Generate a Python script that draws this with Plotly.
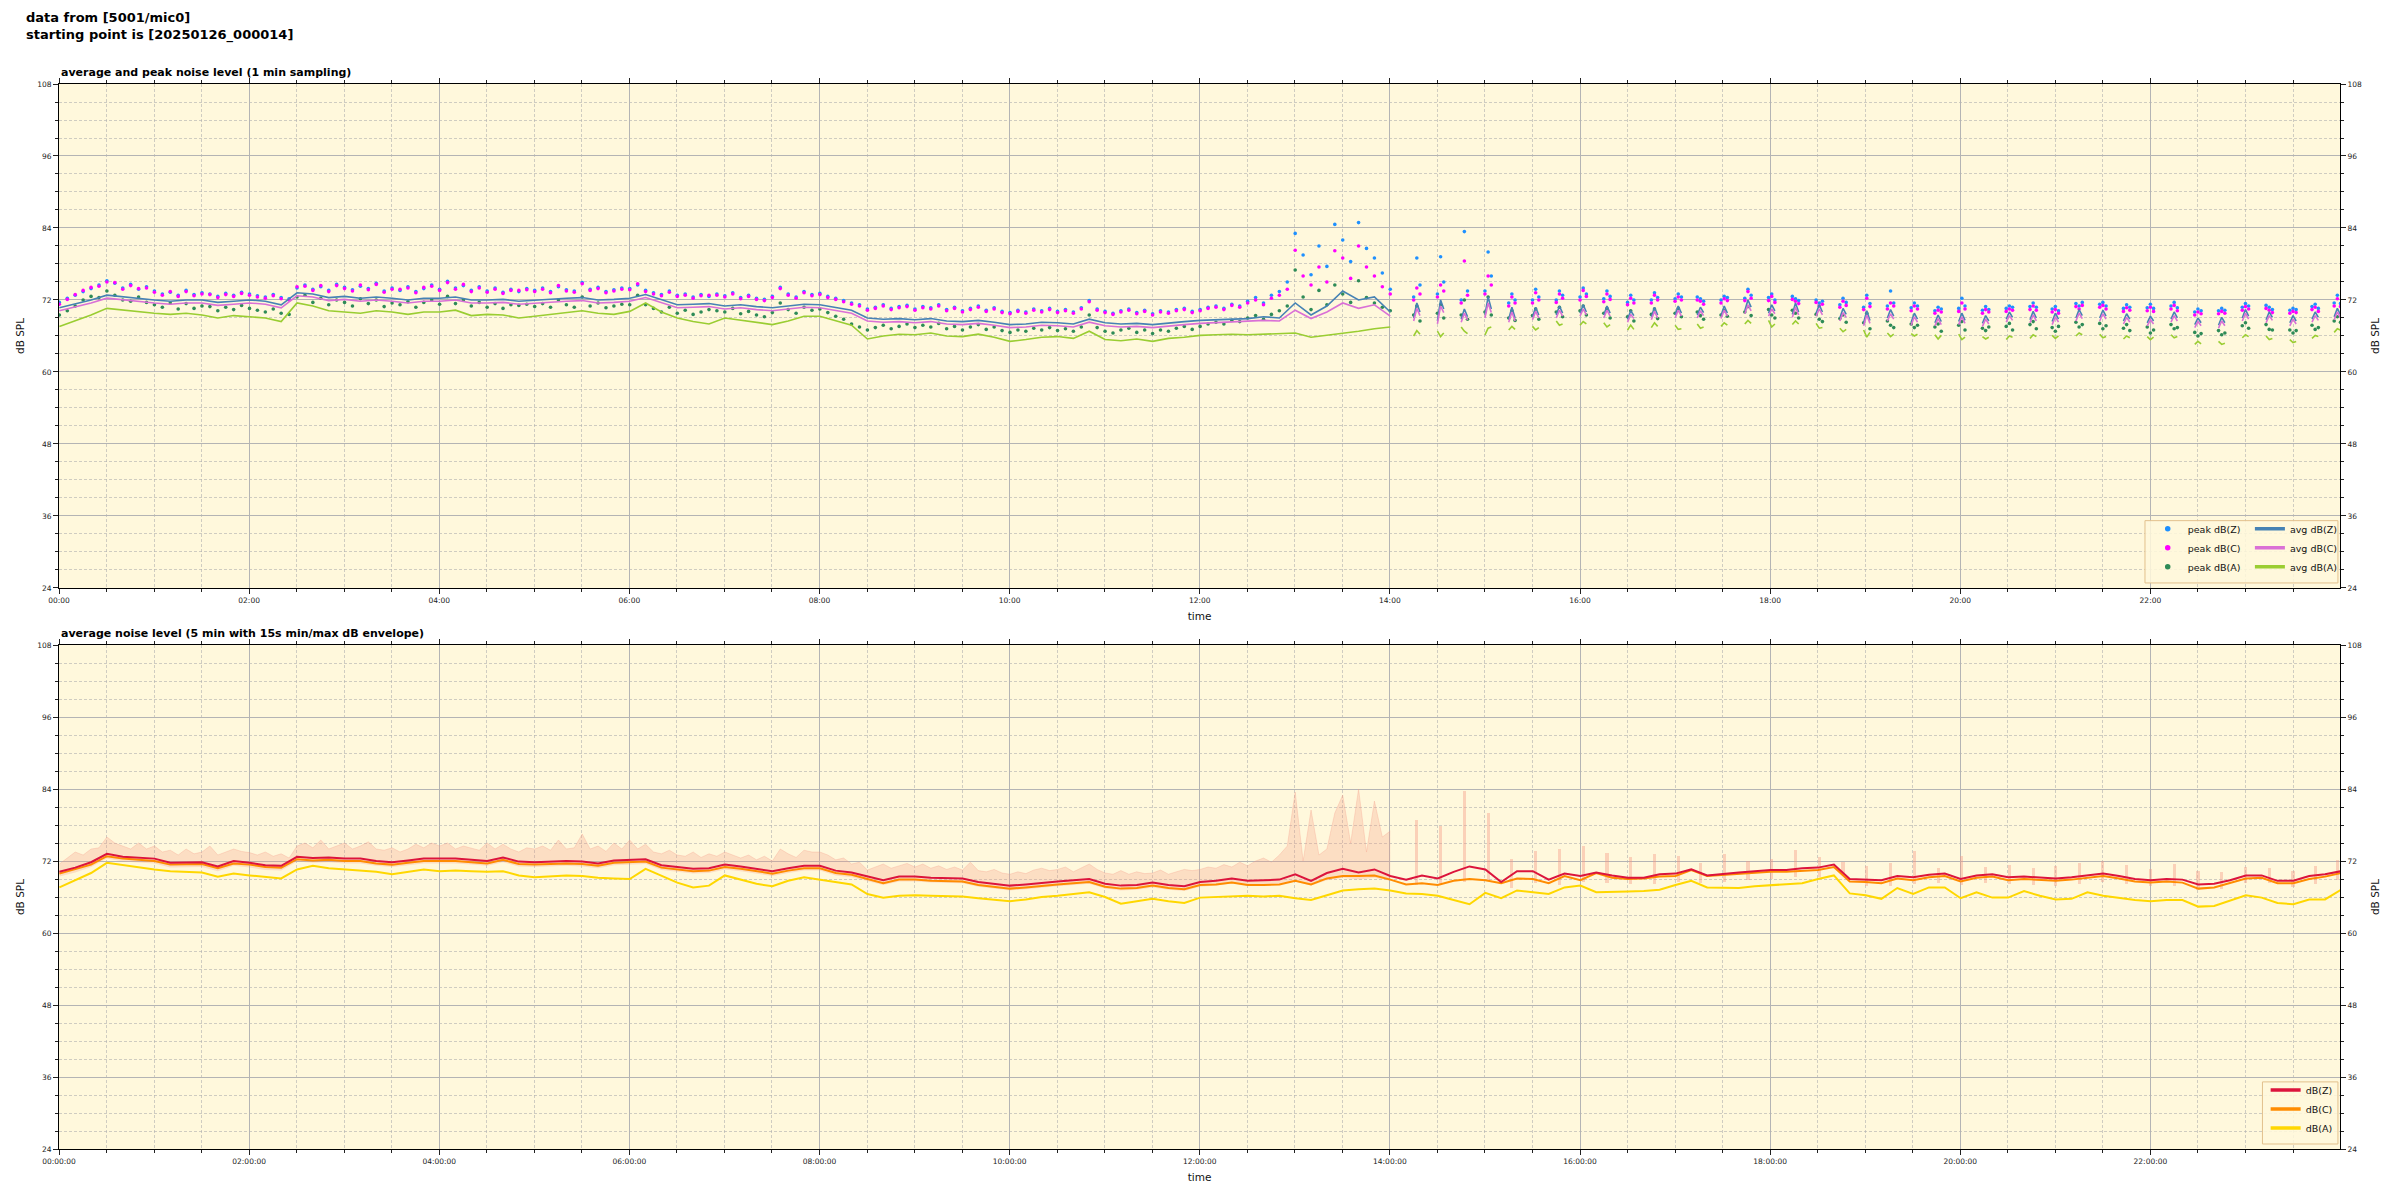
import pandas as pd
import plotly.graph_objects as go

DAY = "2025-01-26"
START = pd.Timestamp(DAY + " 00:00:14")


def nums(s):
    return [float(v) for v in s.split()]


# ---------------- top panel: 1-min averages, read every 10 min (00:00 .. 14:00) ----------------
top_avg_z = nums("""
70.7 71.3 72.0 72.8 72.5 72.3 72.0 71.8 72.0 72.0 71.6 71.8
72.0 71.8 71.2 73.2 73.0 72.4 72.6 72.3 72.5 72.3 72.0 72.3
72.3 72.5 72.0 72.0 72.1 71.8 72.0 72.2 72.3 72.4 72.0 72.1
72.3 72.9 72.0 71.2 71.3 71.4 71.0 71.2 70.9 70.7 71.0 71.3
71.2 70.7 70.3 69.0 68.8 68.9 68.7 68.9 68.5 68.4 68.6 68.3
67.9 68.0 68.3 68.2 68.0 68.8 68.2 68.0 68.1 67.9 68.2 68.4
68.6 68.7 68.9 68.9 69.2 69.0 71.5 69.5 71.0 73.5 72.0 72.5
70.0
""")
top_avg_c = nums("""
70.2 70.8 71.5 72.3 72.0 71.8 71.5 71.3 71.5 71.5 71.1 71.3
71.5 71.3 70.7 72.7 72.5 71.9 72.1 71.8 72.0 71.8 71.5 71.8
71.8 72.0 71.5 71.5 71.6 71.3 71.5 71.7 71.8 71.9 71.5 71.6
71.8 72.4 71.5 70.7 70.8 70.9 70.5 70.7 70.4 70.2 70.5 70.8
70.7 70.2 69.8 68.5 68.3 68.4 68.2 68.4 68.0 67.9 68.1 67.8
67.4 67.5 67.8 67.7 67.5 68.3 67.7 67.5 67.6 67.4 67.7 67.9
68.1 68.2 68.4 68.4 68.6 68.5 70.3 68.9 70.0 71.5 70.6 71.2
69.3
""")
top_avg_a = nums("""
67.6 68.5 69.5 70.6 70.3 70.0 69.8 69.6 69.8 69.5 69.0 69.4
69.2 69.0 68.4 71.5 71.0 70.2 70.0 69.8 70.2 70.0 69.6 70.0
70.0 70.3 69.4 69.6 69.5 69.0 69.3 69.6 69.8 70.2 69.8 69.6
70.1 71.5 70.0 69.0 68.4 68.0 69.0 68.6 68.2 67.9 68.5 69.3
69.3 68.5 67.8 65.5 66.0 66.3 66.2 66.5 66.0 65.9 66.3 65.8
65.1 65.4 65.8 65.9 65.6 66.8 65.4 65.2 65.5 65.1 65.6 65.8
66.1 66.2 66.3 66.2 66.3 66.4 66.5 65.8 66.1 66.5 66.8 67.2
67.5
""")

# peaks, read every 5 min (00:00 .. 14:00)
top_peak_z = nums("""
71.6 72.3 72.8 73.4 73.9 74.5 75.2 74.8 74.0 74.6 73.8 74.2
73.5 73.0 73.3 72.8 73.6 72.9 73.2 73.0 72.6 73.1 72.8 73.3
73.0 72.7 72.5 72.9 72.4 72.2 74.0 74.5 73.8 74.2 73.6 74.6
74.1 73.7 74.3 73.9 74.8 73.5 74.0 73.6 74.2 73.4 73.9 74.5
73.8 75.1 74.0 74.4 73.6 74.2 73.5 74.0 73.3 73.8 73.4 73.9
73.6 74.0 73.4 74.2 73.7 73.5 74.9 73.8 74.1 73.4 73.7 74.0
73.9 74.5 73.6 73.2 72.9 73.5 72.8 73.0 72.5 72.9 72.6 73.0
72.7 73.2 72.4 72.8 72.3 72.1 72.6 74.1 73.0 72.5 73.4 72.9
73.1 72.6 72.3 71.9 71.5 71.2 70.5 70.8 71.2 70.6 70.9 71.1
70.5 70.9 70.7 71.2 70.4 70.8 70.2 70.6 71.0 70.3 70.7 70.1
69.9 70.3 70.0 70.5 70.2 70.6 70.1 70.4 70.0 70.7 71.9 70.5
70.1 69.8 70.2 70.5 69.9 70.3 69.7 70.2 70.0 70.4 70.6 70.1
70.4 70.8 71.0 70.6 71.3 71.0 71.8 72.4 71.5 72.8 73.4 75.0
83.1 79.5 76.2 81.0 77.6 84.6 82.0 78.4 84.9 80.6 79.0 76.5
73.8
""")
top_peak_c = nums("""
71.3 72.1 72.9 73.6 74.1 74.3 75.0 74.9 73.8 74.4 73.9 74.0
73.3 72.8 73.4 72.6 73.4 72.7 73.0 72.9 72.4 72.9 72.6 73.1
72.8 72.5 72.3 72.7 72.2 72.0 74.2 74.3 73.6 74.4 73.4 74.4
73.9 73.5 74.5 73.7 74.6 73.3 73.8 73.8 74.0 73.2 74.1 74.3
73.6 74.9 73.8 74.6 73.4 74.0 73.3 73.8 73.1 73.6 73.6 73.7
73.4 73.8 73.2 74.4 73.5 73.3 74.7 73.6 73.9 73.2 73.5 73.8
73.7 74.7 73.4 73.0 72.7 73.3 72.6 72.8 72.3 72.7 72.8 72.8
72.5 73.0 72.2 72.6 72.1 71.9 72.4 73.9 72.8 72.3 73.2 72.7
72.9 72.4 72.1 71.7 71.3 71.0 70.3 70.6 71.0 70.4 70.7 70.9
70.3 70.7 70.5 71.0 70.2 70.6 70.0 70.4 70.8 70.1 70.5 69.9
69.7 70.1 69.8 70.3 70.0 70.4 69.9 70.2 69.8 70.5 71.7 70.3
69.9 69.6 70.0 70.3 69.7 70.1 69.5 70.0 69.8 70.2 70.4 69.9
70.2 70.6 70.8 70.4 71.1 70.8 71.5 72.0 71.2 72.3 72.8 73.8
80.3 76.0 74.5 77.5 75.0 80.2 79.0 75.6 81.0 77.5 76.0 74.2
73.0
""")
top_peak_a = nums("""
69.5 70.2 71.0 72.0 72.6 72.4 73.5 72.8 72.0 71.8 72.5 71.6
71.2 70.8 71.5 70.5 71.4 70.6 71.0 70.9 70.2 70.8 70.4 71.1
70.6 70.3 70.0 70.5 69.8 69.6 72.5 72.8 71.6 72.3 71.2 72.0
71.6 71.0 72.2 71.4 72.0 70.9 71.5 71.2 71.7 70.8 71.6 72.0
71.3 72.6 71.4 72.0 71.0 71.6 70.8 71.4 70.6 71.2 71.1 71.3
70.9 71.4 70.8 72.0 71.2 70.8 72.5 71.0 71.5 70.7 71.0 71.3
71.2 72.8 71.2 70.6 70.0 70.8 69.8 70.3 69.6 70.0 70.4 70.2
70.0 70.6 69.7 70.1 69.5 69.2 69.9 71.5 70.4 69.8 70.8 70.3
70.5 69.9 69.3 68.8 68.0 67.5 67.0 67.4 67.8 67.2 67.6 68.0
67.4 67.8 67.5 68.1 67.2 67.6 67.0 67.5 67.9 67.1 67.5 66.9
66.6 67.0 66.8 67.3 67.0 67.4 66.9 67.2 66.8 67.5 69.5 67.4
66.8 66.5 67.0 67.3 66.6 67.0 66.4 67.0 66.8 67.3 67.6 67.1
67.6 68.0 68.3 68.0 68.6 68.4 69.0 69.4 68.8 69.6 70.2 71.0
77.0 72.5 70.4 73.6 71.2 74.5 73.0 71.6 75.2 72.4 71.5 70.8
70.2
""")

# after 14:00 the recorder only sampled short bursts (start time of each burst)
burst_start = [
    "14:15", "14:30", "14:45", "15:00", "15:15", "15:30", "15:45", "16:00", "16:15", "16:30",
    "16:45", "17:00", "17:14", "17:29", "17:44", "17:59", "18:14", "18:29", "18:44", "18:59",
    "19:14", "19:29", "19:44", "19:59", "20:14", "20:29", "20:44", "20:58", "21:13", "21:28",
    "21:43", "21:58", "22:13", "22:28", "22:43", "22:58", "23:13", "23:28", "23:42", "23:56",
]
burst_sample_min = [0, 2, 4]   # minutes after burst start

burst_avg_z = nums("""
69.0 71.5 70.0  68.5 72.0 70.5  68.8 70.5 69.2  69.5 72.5 70.5  68.8 70.8 69.0
69.2 70.8 69.5  69.5 71.0 69.8  69.8 71.2 70.0  69.5 71.0 69.8  68.8 70.2 69.4
69.2 70.8 69.5  69.5 71.0 69.8  69.5 70.8 69.9  69.4 71.0 69.8  70.2 72.0 70.8
69.8 71.2 70.2  69.6 71.5 70.0  69.8 71.2 70.0  69.0 70.6 69.6  68.2 70.2 68.6
69.0 70.4 69.3  68.3 69.8 68.8  68.2 69.5 68.4  68.4 69.8 68.6  68.1 69.4 68.5
68.8 70.0 69.1  68.7 70.1 69.0  68.4 69.8 68.8  69.0 70.4 69.4  69.0 70.3 69.3
68.5 69.7 68.8  68.2 69.3 68.5  68.8 70.0 69.0  67.9 69.0 68.2  67.8 69.1 68.2
69.0 70.4 69.3  68.7 70.0 69.1  68.2 69.4 68.5  68.8 70.0 69.1  69.2 70.6 69.5
""")
burst_avg_c = nums("""
68.5 70.6 69.4  68.0 71.0 69.9  68.3 69.8 68.7  69.0 71.5 69.9  68.3 70.0 68.5
68.7 70.1 69.0  69.0 70.3 69.3  69.3 70.5 69.5  69.0 70.3 69.3  68.3 69.6 68.9
68.7 70.1 69.0  69.0 70.3 69.3  69.0 70.2 69.4  68.9 70.3 69.3  69.7 71.2 70.2
69.3 70.5 69.7  69.1 70.8 69.5  69.3 70.5 69.5  68.5 69.9 69.1  67.7 69.5 68.1
68.5 69.7 68.8  67.8 69.2 68.3  67.7 68.9 67.9  67.9 69.2 68.1  67.6 68.8 68.0
68.3 69.4 68.6  68.2 69.5 68.5  67.9 69.2 68.3  68.5 69.8 68.9  68.5 69.7 68.8
68.0 69.1 68.3  67.7 68.7 68.0  68.3 69.4 68.5  67.4 68.4 67.7  67.3 68.5 67.7
68.5 69.8 68.8  68.2 69.4 68.6  67.7 68.8 68.0  68.3 69.4 68.6  68.7 70.0 69.0
""")
burst_avg_a = nums("""
66.0 66.9 66.3  66.8 65.9 66.5  67.5 66.8 66.4  66.2 67.3 67.5  67.0 67.6 67.1
67.6 67.0 67.4  68.5 67.8 68.0  67.8 68.4 68.0  68.2 67.5 67.9  67.0 67.8 67.1
67.4 68.2 67.6  67.8 67.1 67.2  68.0 67.3 67.5  67.6 68.2 67.8  68.0 68.6 68.1
68.6 67.5 68.0  67.9 68.5 68.0  68.1 67.3 67.4  67.3 66.7 67.1  67.0 65.8 66.6
66.5 65.9 66.3  66.4 66.0 66.3  66.2 65.5 66.1  66.3 65.4 65.8  65.9 65.5 65.8
65.4 66.0 65.8  65.6 66.2 65.9  66.1 65.6 66.0  66.0 66.5 66.2  66.3 65.7 65.9
65.5 66.0 65.7  65.9 65.4 65.8  66.2 65.7 65.9  64.6 65.1 64.7  65.1 64.6 64.8
65.7 66.2 65.9  66.0 65.4 65.6  65.4 64.9 65.1  65.6 66.1 65.9  66.6 67.2 67.0
""")
burst_peak_z = nums("""
72.5 79.0 74.5  73.0 79.2 75.0  72.0 83.4 73.5  73.5 80.0 76.0  71.5 73.0 72.0
72.0 73.8 72.5  72.0 73.5 72.8  72.5 74.0 73.0  72.2 73.5 72.6  71.6 72.8 72.0
72.0 73.2 72.4  72.2 73.0 72.5  72.5 72.2 71.8  72.0 72.6 72.4  72.3 73.8 72.8
72.4 73.0 72.0  72.6 72.2 71.9  72.0 71.5 71.8  71.2 72.3 71.6  70.8 72.8 71.4
71.0 73.5 71.5  70.7 71.5 71.0  70.2 70.8 70.5  70.6 72.3 71.0  70.3 70.9 70.4
70.6 71.0 70.8  70.9 71.5 70.8  70.5 70.9 70.2  71.4 71.0 71.6  71.3 71.6 71.0
70.6 71.2 70.8  70.7 71.3 70.6  71.0 71.6 70.7  70.0 70.5 70.2  70.2 70.6 70.3
70.8 71.4 71.0  71.1 70.8 70.4  70.3 70.6 70.4  70.9 71.3 70.6  71.5 72.8 71.4
""")
burst_peak_c = nums("""
72.0 74.0 73.0  72.5 74.5 73.5  71.5 78.5 72.8  73.0 76.0 74.5  71.0 72.5 71.5
71.5 73.2 72.0  71.6 73.0 72.3  72.0 73.6 72.6  71.7 73.0 72.1  71.2 72.3 71.5
71.5 72.8 72.0  71.8 72.5 72.0  72.0 71.8 71.3  71.5 72.2 71.9  71.9 73.4 72.3
71.9 72.6 71.6  72.1 71.8 71.4  71.6 71.0 71.3  70.8 71.8 71.1  70.4 72.3 70.9
70.5 71.5 71.0  70.2 71.0 70.5  69.8 70.3 70.0  70.1 71.5 70.5  69.8 70.4 70.0
70.1 70.5 70.3  70.4 71.0 70.3  70.0 70.4 69.8  70.9 70.5 71.1  70.8 71.1 70.5
70.1 70.7 70.3  70.2 70.8 70.1  70.5 71.1 70.2  69.5 70.0 69.7  69.7 70.1 69.8
70.3 70.9 70.5  70.6 70.3 69.9  69.8 70.1 69.9  70.4 70.8 70.1  71.0 72.2 70.9
""")
burst_peak_a = nums("""
69.5 71.0 68.5  69.8 71.2 69.0  69.5 72.0 68.8  70.0 72.5 69.5  69.0 70.2 68.6
69.4 70.5 68.8  70.0 70.8 69.2  70.2 71.0 69.5  69.8 70.6 69.0  69.2 70.2 68.5
69.6 70.5 68.9  69.8 70.6 69.2  70.0 69.4 68.8  69.5 70.2 69.3  70.0 70.9 69.4
70.4 69.5 69.0  70.3 69.8 69.0  69.6 68.8 68.4  68.9 69.5 68.3  68.2 69.8 67.2
68.5 67.8 67.4  68.0 67.4 67.8  67.5 68.0 66.8  67.8 68.4 67.0  67.3 66.9 67.5
67.6 68.1 67.0  67.9 68.4 67.2  67.4 66.8 67.6  68.3 67.5 67.9  68.1 67.2 67.7
67.3 67.9 66.9  67.5 66.5 67.0  67.9 67.2 67.4  66.6 66.0 66.4  66.9 66.2 66.5
67.7 68.2 67.3  67.9 67.1 67.0  67.0 66.5 66.9  67.8 67.1 67.4  68.5 69.2 68.3
""")

# ---------------- bottom panel: 5-min averages, read every 10 min (00:00 .. 24:00) ----------------
bot_z = nums("""
70.2 70.9 71.8 73.2 72.7 72.6 72.4 71.7 71.7 71.8 71.1 72.0
71.7 71.3 71.2 72.7 72.5 72.6 72.4 72.4 72.0 71.8 72.1 72.4
72.4 72.4 72.2 72.0 72.6 71.9 71.8 71.9 72.0 71.9 71.6 72.1
72.2 72.3 71.3 71.0 70.7 70.8 71.4 71.1 70.7 70.3 70.8 71.2
71.2 70.4 70.1 69.5 68.8 69.4 69.4 69.2 69.2 69.1 68.5 68.2
67.9 68.1 68.4 68.6 68.8 69.0 68.2 67.9 68.0 68.4 68.0 67.8
68.5 68.7 69.1 68.7 68.8 68.9 69.8 68.7 70.0 70.7 70.1 70.6
69.5 68.9 69.6 69.1 70.2 71.1 70.6 68.5 70.3 70.3 68.9 69.9
69.5 70.1 69.6 69.2 69.2 69.8 69.9 70.6 69.6 69.9 70.1 70.3
70.5 70.5 70.8 70.9 71.4 69.0 68.9 68.8 69.5 69.3 69.7 69.9
69.0 69.6 69.8 69.3 69.4 69.2 69.1 69.3 69.6 69.9 69.5 69.0
68.8 69.0 68.9 68.1 68.2 68.8 69.6 69.6 68.7 68.7 69.5 69.8
70.3
""")
bot_c = nums("""
69.9 70.6 71.4 72.8 72.4 72.2 72.0 71.4 71.4 71.5 70.8 71.6
71.4 71.0 70.9 72.3 72.1 72.2 72.0 72.0 71.6 71.4 71.7 72.0
72.0 72.0 71.8 71.6 72.2 71.5 71.4 71.5 71.6 71.5 71.2 71.7
71.8 71.9 70.9 70.6 70.3 70.4 71.0 70.7 70.3 69.9 70.4 70.8
70.8 70.0 69.7 69.0 68.3 68.9 68.9 68.7 68.7 68.6 68.0 67.7
67.4 67.6 67.9 68.1 68.3 68.5 67.7 67.4 67.5 67.9 67.5 67.3
68.0 68.1 68.4 68.0 68.0 68.1 68.7 68.1 69.1 69.5 69.5 69.6
68.9 68.1 68.3 68.0 68.7 69.0 68.8 68.3 69.1 69.0 68.3 69.5
68.8 70.0 69.2 69.0 69.1 69.4 69.5 70.5 69.5 69.7 69.8 70.0
70.2 70.2 70.4 70.5 71.0 68.6 68.5 68.3 69.1 68.8 69.3 69.5
68.6 69.2 69.4 68.8 69.0 68.8 68.7 68.9 69.2 69.5 69.1 68.6
68.4 68.6 68.4 67.4 67.6 68.3 69.1 69.2 68.3 68.3 69.0 69.4
70.0
""")
bot_a = nums("""
67.6 68.8 70.0 71.7 71.3 71.0 70.6 70.3 70.2 70.1 69.4 69.9
69.6 69.3 69.1 70.6 71.2 70.8 70.6 70.5 70.2 69.8 70.2 70.6
70.3 70.4 70.3 70.2 70.3 69.6 69.3 69.4 69.6 69.5 69.2 69.1
69.0 70.7 69.6 68.4 67.6 67.9 69.6 68.9 68.2 67.8 68.7 69.3
68.9 68.5 68.1 66.5 65.9 66.2 66.3 66.2 66.2 66.1 65.8 65.6
65.3 65.6 66.0 66.2 66.5 66.8 66.0 64.9 65.3 65.7 65.3 65.0
65.9 66.0 66.1 66.2 66.1 66.2 65.8 65.5 66.3 67.1 67.3 67.4
67.1 66.6 66.5 66.2 65.5 64.8 66.7 65.8 67.1 66.8 66.5 67.6
67.9 66.8 66.8 66.9 67.0 67.2 68.0 68.7 67.6 67.6 67.5 67.8
68.0 68.1 68.3 69.0 69.6 66.6 66.3 65.7 67.5 66.5 67.6 67.6
65.8 66.8 65.9 65.9 67.0 66.2 65.6 65.7 66.8 66.2 65.8 65.5
65.3 65.5 65.5 64.4 64.5 65.4 66.3 65.9 65.0 64.8 65.6 65.6
67.2
""")

# 15 s min/max envelope: max read every 5 min, min read every 10 min (00:00 .. 14:00)
env_hi = nums("""
71.5 72.5 73.5 73.0 74.0 74.2 76.0 75.0 74.5 74.0 75.0 74.0
74.5 73.5 73.8 73.0 74.0 73.2 73.5 74.5 73.0 73.5 74.0 73.6
73.4 73.0 73.5 72.8 73.2 72.5 74.5 75.0 74.2 75.5 74.0 74.5
75.0 74.0 74.5 75.2 74.0 73.8 74.2 73.5 74.0 74.8 74.2 75.0
74.5 75.0 74.0 74.5 74.2 73.8 75.0 74.0 74.8 74.0 73.5 74.2
74.0 74.5 73.8 75.5 74.0 74.2 76.5 74.0 74.5 73.6 75.0 74.0
75.5 74.0 74.8 73.5 73.2 73.8 73.0 72.8 73.5 72.6 73.2 72.8
73.5 73.0 72.5 73.0 72.2 72.8 72.0 74.0 73.2 72.6 73.8 73.5
73.5 73.0 72.2 72.5 71.5 71.8 70.5 71.0 71.5 70.8 71.2 71.6
71.0 71.5 70.8 71.2 70.6 71.0 70.5 71.8 70.4 70.2 70.6 70.0
69.8 70.2 69.9 70.5 70.8 70.4 70.6 71.0 70.2 70.8 71.5 70.6
70.0 69.8 70.4 69.8 70.2 69.9 70.0 70.5 69.8 70.2 70.6 70.4
70.6 71.0 70.8 71.4 71.0 71.8 71.2 72.0 72.5 71.8 73.0 74.5
83.5 72.0 80.5 73.0 74.0 80.0 83.0 75.0 84.0 73.5 82.0 76.0
77.0
""")
env_lo = nums("""
69.4 70.1 71.0 72.4 71.9 71.8 71.6 70.9 70.9 71.0 70.3 71.2
70.9 70.5 70.4 71.9 71.7 71.8 71.6 71.6 71.2 71.0 71.3 71.6
71.6 71.6 71.4 71.2 71.8 71.1 71.0 71.1 71.2 71.1 70.8 71.3
71.4 71.5 70.5 70.2 69.9 70.0 70.6 70.3 69.9 69.5 70.0 70.4
70.4 69.6 69.3 68.7 68.0 68.6 68.6 68.4 68.4 68.3 67.7 67.4
67.1 67.3 67.6 67.8 68.0 68.2 67.4 67.1 67.2 67.6 67.2 67.0
67.7 67.9 68.3 67.9 68.0 68.1 68.6 67.9 68.8 69.2 68.9 69.2
68.7
""")
burst_env_hi = nums("""
78.9 77.8 83.7 80.0 72.3 73.7 74.0 74.5 73.4 72.6 73.1 72.8 71.7 73.1 72.0 72.3 73.9 72.6 71.8 71.2
71.7 73.7 70.8 72.8 71.0 71.4 70.9 71.2 71.6 72.0 71.3 70.6 71.5 70.4 70.2 71.0 70.8 70.3 71.2 72.2
""")
burst_env_lo = nums("""
68.0 68.2 68.5 68.8 67.5 68.3 68.0 68.5 68.4 68.1 68.2 68.5 68.4 68.5 68.8 69.0 69.3 69.4 69.6 67.9
67.9 68.1 68.3 68.0 68.3 68.2 68.0 67.9 68.2 68.5 68.2 67.8 67.9 67.1 67.3 68.3 68.3 67.6 68.2 68.8
""")

# ---------------- time grids ----------------
def grid(n, step_min):
    return [START + pd.Timedelta(minutes=step_min * i) for i in range(n)]


burst_t0 = [pd.Timestamp(f"{DAY} {s}:00") for s in burst_start]
burst_t = [t + pd.Timedelta(minutes=m) for t in burst_t0 for m in burst_sample_min]
burst_mid = [t + pd.Timedelta(minutes=2) for t in burst_t0]


def with_bursts(cont_v, step_min, b_v):
    xs = grid(len(cont_v), step_min) + [None]
    ys = list(cont_v) + [None]
    k = len(burst_sample_min)
    for i in range(0, min(len(b_v), len(burst_t)), k):
        xs += burst_t[i:i + k] + [None]
        ys += b_v[i:i + k] + [None]
    return xs, ys


def peaks_all(cont_v, b_v):
    n = min(len(b_v), len(burst_t))
    return grid(len(cont_v), 5) + burst_t[:n], list(cont_v) + b_v[:n]


fig = go.Figure()

# ---- top panel ----
peak_styles = [("peak dB(Z)", top_peak_z, burst_peak_z, "#1e90ff"),
               ("peak dB(C)", top_peak_c, burst_peak_c, "#ff00ff"),
               ("peak dB(A)", top_peak_a, burst_peak_a, "#2e8b57")]
for name, cv, bv, col in peak_styles:
    x, y = peaks_all(cv, bv)
    fig.add_trace(go.Scatter(x=x, y=y, mode="markers", name=name, showlegend=False,
                             marker=dict(color=col, size=3.6, line=dict(width=0)),
                             xaxis="x", yaxis="y", hoverinfo="skip"))

avg_styles = [("avg dB(Z)", top_avg_z, burst_avg_z, "#4682b4"),
              ("avg dB(C)", top_avg_c, burst_avg_c, "#da70d6"),
              ("avg dB(A)", top_avg_a, burst_avg_a, "#9acd32")]
for name, cv, bv, col in avg_styles:
    x, y = with_bursts(cv, 10, bv)
    fig.add_trace(go.Scatter(x=x, y=y, mode="lines", name=name, showlegend=False,
                             line=dict(color=col, width=1.6), connectgaps=False,
                             xaxis="x", yaxis="y", hoverinfo="skip"))

# legend-only entries (top)
for name, _, _, col in peak_styles:
    fig.add_trace(go.Scatter(x=[None], y=[None], mode="markers", name=name, legend="legend",
                             marker=dict(color=col, size=5.5), xaxis="x", yaxis="y"))
for name, _, _, col in avg_styles:
    fig.add_trace(go.Scatter(x=[None], y=[None], mode="lines", name=name, legend="legend2",
                             line=dict(color=col, width=3.5), xaxis="x", yaxis="y"))

# right-hand axes carriers
fig.add_trace(go.Scatter(x=[], y=[], xaxis="x", yaxis="y3", showlegend=False, hoverinfo="skip"))
fig.add_trace(go.Scatter(x=[], y=[], xaxis="x2", yaxis="y4", showlegend=False, hoverinfo="skip"))

# ---- bottom panel ----
ENV = "rgba(245,150,130,0.27)"
fig.add_trace(go.Scatter(x=grid(len(env_lo), 10), y=env_lo, mode="lines",
                         line=dict(width=0, color=ENV), showlegend=False,
                         xaxis="x2", yaxis="y2", hoverinfo="skip"))
fig.add_trace(go.Scatter(x=grid(len(env_hi), 5), y=env_hi, mode="lines", fill="tonexty",
                         fillcolor=ENV, line=dict(width=0.8, color="rgba(245,150,130,0.35)"),
                         showlegend=False, xaxis="x2", yaxis="y2", hoverinfo="skip"))
n_b = min(len(burst_env_hi), len(burst_env_lo), len(burst_mid))
fig.add_trace(go.Bar(x=burst_mid[:n_b],
                     y=[h - l for h, l in zip(burst_env_hi[:n_b], burst_env_lo[:n_b])],
                     base=burst_env_lo[:n_b], width=2 * 60 * 1000,
                     marker=dict(color="rgba(245,150,130,0.4)", line=dict(width=0)),
                     showlegend=False, xaxis="x2", yaxis="y2", hoverinfo="skip"))

bot_styles = [("dB(A)", bot_a, "#ffd700"), ("dB(C)", bot_c, "#ff8c00"), ("dB(Z)", bot_z, "#dc143c")]
for name, v, col in bot_styles:
    fig.add_trace(go.Scatter(x=grid(len(v), 10), y=v, mode="lines", name=name, showlegend=False,
                             line=dict(color=col, width=2), xaxis="x2", yaxis="y2",
                             hoverinfo="skip"))
for name, _, col in reversed(bot_styles):
    fig.add_trace(go.Scatter(x=[None], y=[None], mode="lines", name=name, legend="legend3",
                             line=dict(color=col, width=3.5), xaxis="x2", yaxis="y2"))

# ---------------- layout ----------------
FONT = "DejaVu Sans"
TICKF = dict(family=FONT, size=7.5, color="#222")
MAJ = "#b4b4b4"
MIN = "rgba(175,175,175,0.6)"
DASH = "3px,2px"
XR = [f"{DAY} 00:00:00", f"{DAY} 23:59:40"]


def xaxis(fmt, anchor):
    return dict(type="date", range=XR, tick0=f"{DAY} 00:00:00", dtick=7200000,
                tickformat=fmt, anchor=anchor, ticks="outside", ticklen=5, tickcolor="#222",
                showline=True, linecolor="black", linewidth=1, mirror="ticks",
                showgrid=True, gridcolor=MAJ, gridwidth=1.2, zeroline=False, tickfont=TICKF,
                minor=dict(tick0=f"{DAY} 00:00:00", dtick=1800000, ticks="outside", ticklen=3,
                           tickcolor="#222", showgrid=True, gridcolor=MIN, griddash=DASH,
                           gridwidth=1),
                title=dict(text="time", font=dict(family=FONT, size=10.5, color="#111"),
                           standoff=8))


def yaxis(domain, anchor):
    return dict(domain=domain, anchor=anchor, range=[24, 108], tick0=24, dtick=12,
                ticks="outside", ticklen=5, tickcolor="#222", showline=True, linecolor="black",
                linewidth=1, mirror=True, showgrid=True, gridcolor=MAJ, gridwidth=1.2,
                zeroline=False, tickfont=TICKF,
                minor=dict(tick0=24, dtick=3, ticks="outside", ticklen=3, tickcolor="#222",
                           showgrid=True, gridcolor=MIN, griddash=DASH, gridwidth=1),
                title=dict(text="dB SPL", font=dict(family=FONT, size=10.5, color="#111"),
                           standoff=10))


def yright(overlay, anchor):
    return dict(overlaying=overlay, anchor=anchor, side="right", range=[24, 108], tick0=24,
                dtick=12, ticks="outside", ticklen=5, tickcolor="#222", showline=False,
                showgrid=False, zeroline=False, tickfont=TICKF,
                minor=dict(tick0=24, dtick=3, ticks="outside", ticklen=3, tickcolor="#222",
                           showgrid=False),
                title=dict(text="dB SPL", font=dict(family=FONT, size=10.5, color="#111"),
                           standoff=10))


TOP_D = [0.5268, 1.0]
BOT_D = [0.0, 0.4732]

leg_common = dict(bgcolor="rgba(0,0,0,0)", borderwidth=0, yanchor="bottom", xanchor="left",
                  font=dict(family=FONT, size=9.5, color="#111"), itemwidth=30,
                  tracegroupgap=0, traceorder="normal")

fig.update_layout(
    width=2400, height=1200,
    margin=dict(l=59, r=60, t=84, b=51),
    paper_bgcolor="white", plot_bgcolor="#fff8dc",
    font=dict(family=FONT, color="#111"),
    showlegend=True,
    xaxis=xaxis("%H:%M", "y"),
    xaxis2=xaxis("%H:%M:%S", "y2"),
    yaxis=yaxis(TOP_D, "x"),
    yaxis2=yaxis(BOT_D, "x2"),
    yaxis3=yright("y", "x"),
    yaxis4=yright("y2", "x2"),
    legend=dict(x=0.9157, y=0.533, **leg_common),
    legend2=dict(x=0.9605, y=0.533, **leg_common),
    legend3=dict(x=0.9674, y=0.006, **leg_common),
    bargap=0,
    annotations=[
        dict(text="<b>data from [5001/mic0]<br>starting point is [20250126_000014]</b>",
             xref="paper", yref="paper", x=-0.0153, y=1.0714, xanchor="left", yanchor="top",
             align="left", showarrow=False, font=dict(family=FONT, size=13, color="black")),
        dict(text="<b>average and peak noise level (1 min sampling)</b>",
             xref="paper", yref="paper", x=0, y=TOP_D[1], xanchor="left", yanchor="bottom",
             yshift=3, showarrow=False, font=dict(family=FONT, size=11, color="black")),
        dict(text="<b>average noise level (5 min with 15s min/max dB envelope)</b>",
             xref="paper", yref="paper", x=0, y=BOT_D[1], xanchor="left", yanchor="bottom",
             yshift=3, showarrow=False, font=dict(family=FONT, size=11, color="black")),
    ],
    shapes=[
        dict(type="rect", xref="paper", yref="paper", x0=0.9145, x1=0.9991, y0=0.5315,
             y1=0.590, fillcolor="rgba(255,248,220,0.85)", line=dict(color="#e2c08d", width=1),
             layer="above"),
        dict(type="rect", xref="paper", yref="paper", x0=0.9660, x1=0.9991, y0=0.0047,
             y1=0.063, fillcolor="rgba(255,248,220,0.85)", line=dict(color="#e2c08d", width=1),
             layer="above"),
    ],
)

fig.write_html("out.html", include_plotlyjs=True, full_html=True,
               config={"displayModeBar": False},
               post_script="document.body.style.margin='0';document.body.style.overflow='hidden';")
